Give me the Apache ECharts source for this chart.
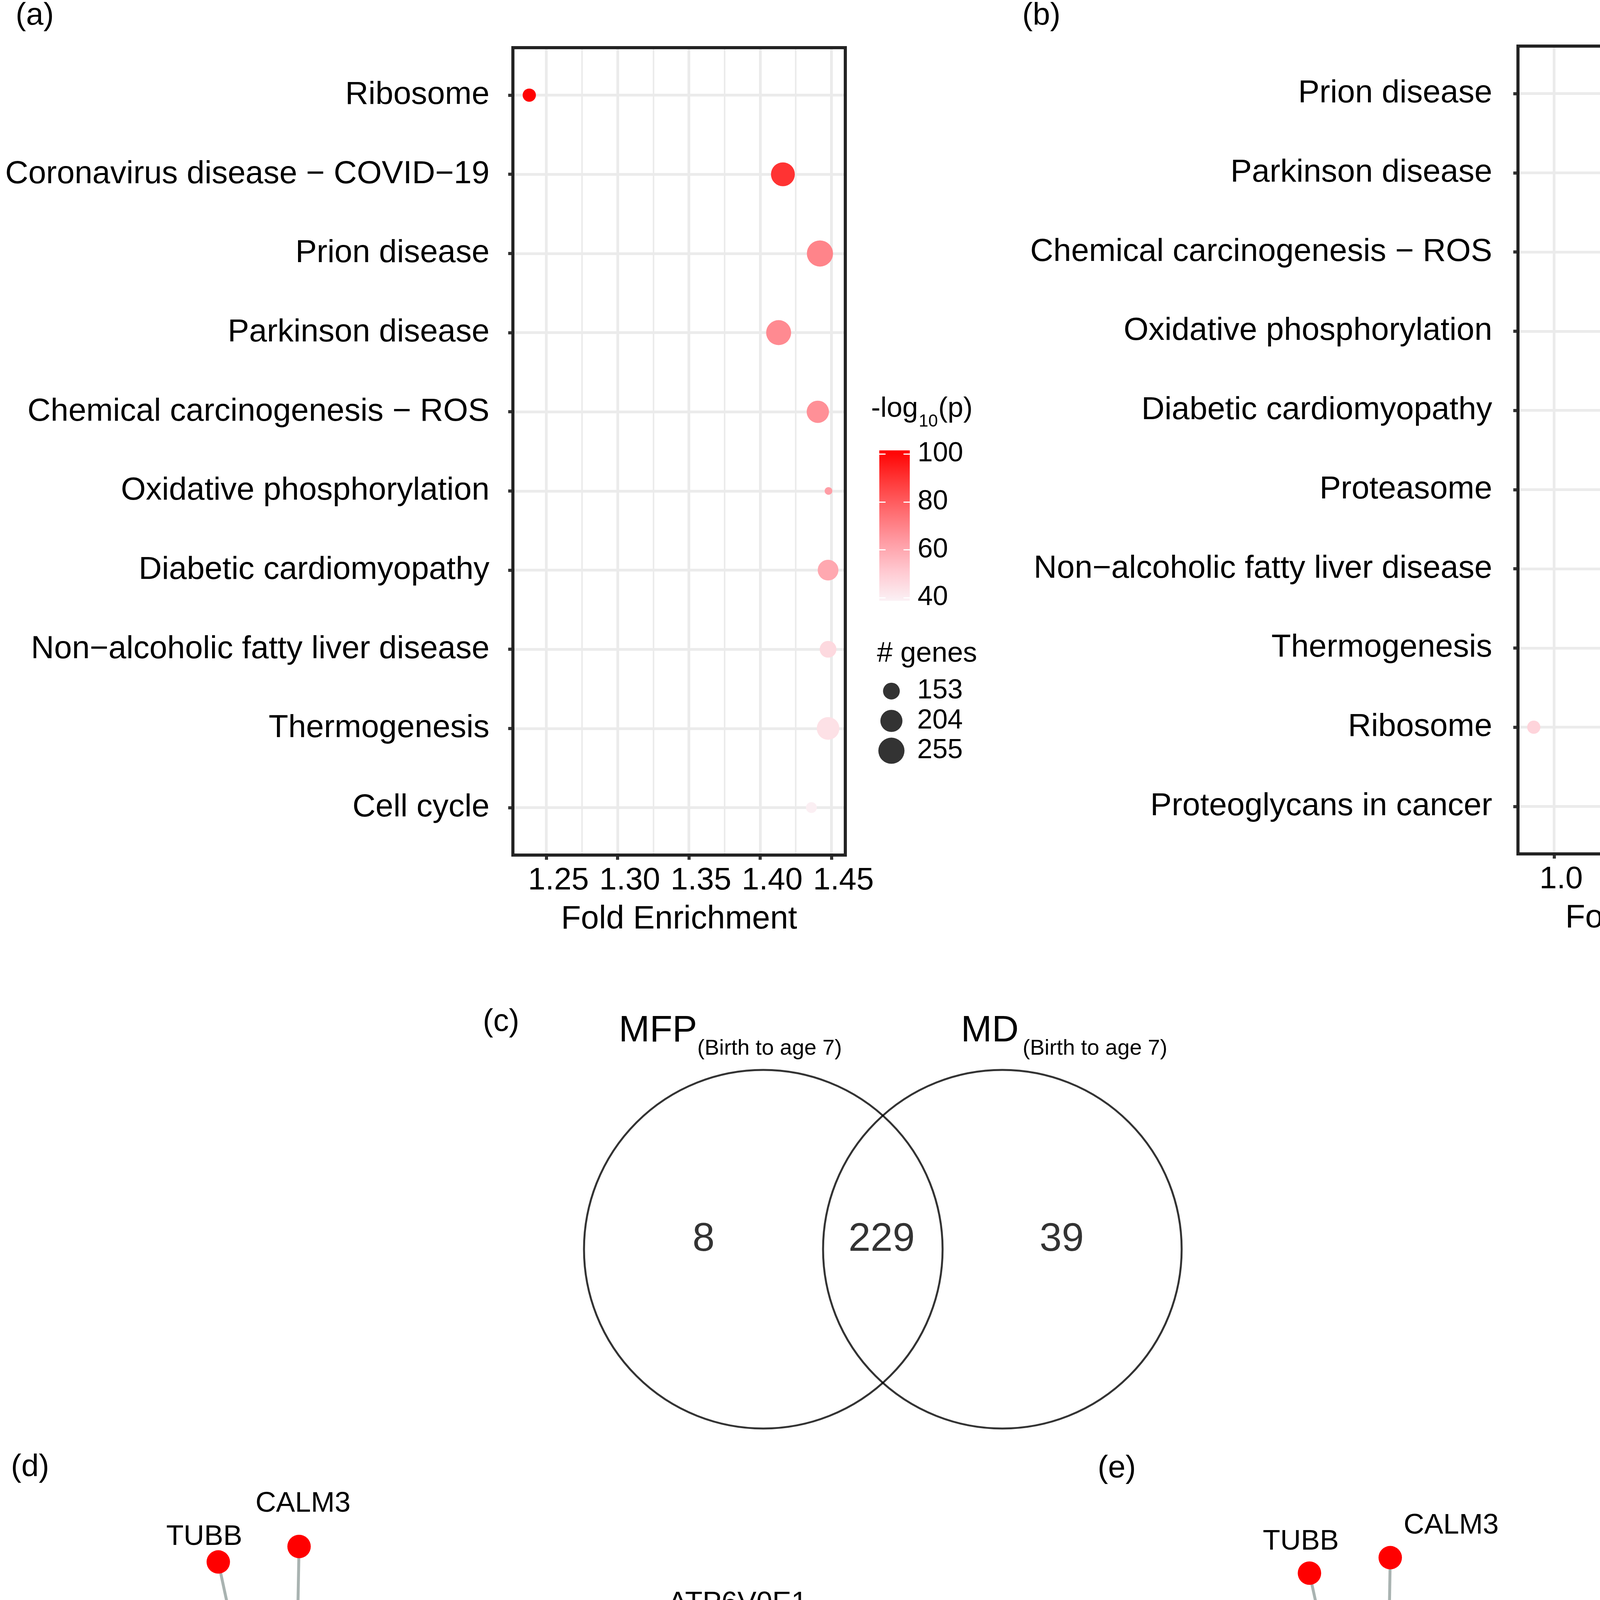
<!DOCTYPE html>
<html><head><meta charset="utf-8">
<script src="https://cdn.jsdelivr.net/npm/echarts@6/dist/echarts.min.js"></script>
<style>html,body{margin:0;padding:0;background:#fff}#c{width:5063px;height:6080px}</style>
</head><body><div id="c"></div>
<script>
// ================= DATA =================
// (a) KEGG enrichment, MFP (birth to age 7)
const catsA = ['Ribosome','Coronavirus disease − COVID−19','Prion disease','Parkinson disease','Chemical carcinogenesis − ROS','Oxidative phosphorylation','Diabetic cardiomyopathy','Non−alcoholic fatty liver disease','Thermogenesis','Cell cycle'];
const foldA  = [1.238, 1.416, 1.442, 1.413, 1.4405, 1.448, 1.4477, 1.4477, 1.4477, 1.436];
const logpA  = [101, 90, 69.5, 68, 66.4, 63, 60, 46, 43.7, 39.3];
const genesA = [129, 225, 255, 239, 206, 107, 189, 153, 210, 117];
const foldTicksA  = [1.25, 1.30, 1.35, 1.40, 1.45];
const colorTicksA = [40, 60, 80, 100];
const sizeBreaksA = [153, 204, 255];

// (b) KEGG enrichment, MD (birth to age 7)
const catsB = ['Prion disease','Parkinson disease','Chemical carcinogenesis − ROS','Oxidative phosphorylation','Diabetic cardiomyopathy','Proteasome','Non−alcoholic fatty liver disease','Thermogenesis','Ribosome','Proteoglycans in cancer'];
const foldB  = [2.300, 2.160, 2.328, 2.475, 2.297, 2.109, 2.458, 2.153, 0.893, 2.360];
const logpB  = [80.5, 78.8, 68.5, 69, 65, 59, 53.3, 48.7, 45.4, 40];
const genesB = [197, 190, 178, 109, 160, 27, 138, 166, 54, 166];
const foldTicksB  = [1.0, 1.5, 2.0, 2.5];
const colorTicksB = [40, 50, 60, 70, 80];
const sizeBreaksB = [42, 84, 126, 168, 210];

// (c) Venn
const vennSets   = ['MFP', 'MD'];
const vennSubtitle = '(Birth to age 7)';
const vennCounts = [8, 229, 39];   // MFP only, shared, MD only

// (d)/(e) gene-concept networks
const termNodes = ['PD', 'OP'];
const termGeneCounts = [15, 9];
const pdGenes = ['CALM3','TUBB','CALM1','VDAC1','TXN','UBE2G1','DDIT3','SLC25A5','PSMD7','COX7C','NDUFB3','NDUFA1','COX6A1','COX7A2','UQCRQ'];
const opGenes = ['COX7C','NDUFB3','NDUFA1','COX6A1','COX7A2','UQCRQ','ATP6V0E1','ATP6V0E2','ATP6V1D'];
const decreasedGenes = ['CALM3','TUBB','CALM1','VDAC1','UBE2G1','SLC25A5','PSMD7','ATP6V0E2'];
const increasedGenes = ['TXN','DDIT3','COX7C','NDUFB3','NDUFA1','COX6A1','COX7A2','UQCRQ','ATP6V0E1','ATP6V1D'];
const nodeTypes = ['Enriched term', 'Increased Methylation', 'Decreased Methylation'];
const netSizeBreaks = [2, 6, 11, 15];
// network layouts (layout units 0-100)
const layoutD = {PD:[34.0,51.2], OP:[67.0,50.7], CALM3:[34.8,9.5], TUBB:[25.4,11.3], CALM1:[22.7,25.9], VDAC1:[14.2,33.5], TXN:[16.3,50.7], UBE2G1:[14.0,66.5], DDIT3:[21.0,77.9], SLC25A5:[26.3,89.9], PSMD7:[34.8,92.3], COX7C:[49.1,23.2], NDUFB3:[53.8,29.7], NDUFA1:[50.3,43.0], COX6A1:[50.3,58.6], COX7A2:[53.5,71.1], UQCRQ:[49.6,79.5], ATP6V0E1:[80.2,20.8], ATP6V0E2:[85.5,50.5], ATP6V1D:[80.4,80.4]};
const layoutE = {PD:[33.8,52.4], OP:[66.6,52.4], CALM3:[34.5,10.8], TUBB:[25.1,12.6], CALM1:[22.4,27.4], VDAC1:[13.9,34.9], TXN:[16.0,52.1], UBE2G1:[13.7,68.0], DDIT3:[20.7,79.2], SLC25A5:[26.0,91.3], PSMD7:[34.5,93.7], COX7C:[48.8,24.6], NDUFB3:[53.5,31.1], NDUFA1:[49.9,44.4], COX6A1:[49.9,60.0], COX7A2:[53.1,72.5], UQCRQ:[49.4,80.9], ATP6V0E1:[79.9,22.1], ATP6V0E2:[85.1,51.9], ATP6V1D:[80.1,81.9]};

// ================= STYLE =================
const FONT = '"Liberation Sans", Arial, Helvetica, sans-serif';
const RAMP = ['#FBF1F5','#FFC8D0','#FF9AA2','#FF6A6E','#FF3838','#FF0000'];
const GRIDC = '#EBEBEB', FRAMEC = '#232323', TICKC = '#333333';
const TYPE_COLORS = ['#E9DDC2', '#6BFF00', '#FF0000'];
const EDGE_C = '#A9B3B1';
const labelOffD = {CALM3:[10,-109], TUBB:[-36,-64], CALM1:[-132,-85], VDAC1:[-168,-49], TXN:[-160,-12], UBE2G1:[-127,77], DDIT3:[-147,50], SLC25A5:[-60,70], PSMD7:[100,85], COX7C:[-35,-109], NDUFB3:[175,-84], NDUFA1:[16,-110], COX6A1:[42,83], COX7A2:[87,66], UQCRQ:[25,70], ATP6V0E1:[124,-103], ATP6V0E2:[89,-88], ATP6V1D:[36,88]};
const labelOffE = {CALM3:[156,-82], TUBB:[-22,-80], CALM1:[-40,-89], VDAC1:[-17,-77], TXN:[-150,-20], UBE2G1:[-122,72], DDIT3:[-84,70], SLC25A5:[-61,71], PSMD7:[110,94], COX7C:[-29,-103], NDUFB3:[186,-82], NDUFA1:[16,-110], COX6A1:[42,76], COX7A2:[98,73], UQCRQ:[24,77], ATP6V0E1:[118,-97], ATP6V0E2:[94,-86], ATP6V1D:[23,-110]};

// size scales (diameter in px), ggplot-like area scale
function sizeA(v){ return 10.6 + 56.4*Math.sqrt(Math.max(0,(v-103)/(255-103))); }
function sizeB(v){ return 10.6 + 56.4*Math.sqrt(Math.max(0,(v-22)/(210-22))); }
function netLegendSize(n){ return 73 + 57.7*Math.sqrt(Math.max(0,(n-2)/13)); }
function stackRows(sizes, start, gap){ let y = start; return sizes.map((d,i)=>{ y += i===0 ? d/2 : (sizes[i-1]+d)/2 + gap; return y; }); }

function txt(text, left, top, size){ return {text, left, top, padding:0, textStyle:{fontFamily:FONT, fontSize:size, fontWeight:'normal', color:'#000', lineHeight:size}}; }
function near(v, arr){ return arr.some(t => Math.abs(t - v) < 1e-6); }
function gradient(){ return {type:'linear', x:0, y:1, x2:0, y2:0, colorStops: RAMP.map((c,i)=>({offset:i/(RAMP.length-1), color:c}))}; }

function mainGrid(g){ return Object.assign({show:true, z:10, backgroundColor:'rgba(0,0,0,0)', borderColor:FRAMEC, borderWidth:8, containLabel:false, outerBoundsMode:'none'}, g); }
function plainGrid(g){ return Object.assign({show:false, containLabel:false, outerBoundsMode:'none'}, g); }
function hiddenAxis(gi, min, max, inverse){ return {type:'value', gridIndex:gi, min, max, inverse:!!inverse, show:false, axisLine:{onZero:false}, splitLine:{show:false}}; }

function majorX(gi, min, max, step, ticks, dec, shift){
  return {type:'value', gridIndex:gi, min, max, minInterval:step, maxInterval:step, position:'bottom',
    axisLine:{show:false, onZero:false},
    axisTick:{show:true, length:12, lineStyle:{color:TICKC, width:8}, customValues:ticks},
    axisLabel:{customValues:ticks, fontFamily:FONT, fontSize:80, color:'#000', margin:26, padding:[0,0,0,shift],
      formatter:v=> near(v,ticks) ? v.toFixed(dec) : ''},
    splitLine:{show:true, lineStyle:{color:GRIDC, width:7}},
    name:'Fold Enrichment', nameLocation:'middle', nameGap:124,
    nameTextStyle:{fontFamily:FONT, fontSize:83, color:'#000', verticalAlign:'top', lineHeight:83}};
}
function minorX(gi, min, max, step){
  return {type:'value', gridIndex:gi, min, max, minInterval:step, maxInterval:step, position:'bottom',
    axisLine:{show:false, onZero:false}, axisTick:{show:false}, axisLabel:{show:false},
    splitLine:{show:true, lineStyle:{color:GRIDC, width:4}}};
}
function catY(gi, cats, margin){
  const idx = cats.map((c,i)=>i);
  return {type:'value', gridIndex:gi, min:-0.6, max:cats.length-0.4, inverse:true, minInterval:1, maxInterval:1, position:'left',
    axisLine:{show:false, onZero:false},
    axisTick:{show:true, length:12, lineStyle:{color:TICKC, width:8}, customValues:idx},
    axisLabel:{customValues:idx, fontFamily:FONT, fontSize:82, color:'#000', margin, padding:[0,0,12,0],
      formatter:v=> Number.isInteger(v) && cats[v] ? cats[v] : ''},
    splitLine:{show:true, lineStyle:{color:GRIDC, width:7}}};
}
function cbarY(gi, min, max, ticks, step, right){
  return {type:'value', gridIndex:gi, min, max, minInterval:step, maxInterval:step, position: right ? 'right':'left',
    axisLine:{show:false, onZero:false},
    axisTick:{show:true, inside:true, length:16, lineStyle:{color:'#fff', width:3}, customValues:ticks},
    axisLabel:{show:right, customValues:ticks, fontFamily:FONT, fontSize:70, color:'#000', margin:20, formatter:v=> near(v,ticks) ? String(Math.round(v)) : ''},
    splitLine:{show:false}};
}
function sizeLegY(gi, breaks){
  return {type:'category', gridIndex:gi, data:breaks.map(String), inverse:true, position:'right',
    axisLine:{show:false, onZero:false}, axisTick:{show:false}, splitLine:{show:false},
    axisLabel:{interval:0, fontFamily:FONT, fontSize:70, color:'#000', margin:16, align:'left'}};
}

// ================= BUILD =================
const dataA = catsA.map((c,i)=>[foldA[i], i, logpA[i], genesA[i]]);
const dataB = catsB.map((c,i)=>[foldB[i], i, logpB[i], genesB[i]]);

function buildGraph(layout, offs){
  const nodes = [];
  termNodes.forEach((t,i)=> nodes.push({name:t, value:layout[t], symbolSize:0.82*netLegendSize(termGeneCounts[i]),
    itemStyle:{color:TYPE_COLORS[0]}, label:{show:true, position:'inside'}}));
  const genes = Array.from(new Set(pdGenes.concat(opGenes)));
  genes.forEach(g=> nodes.push({name:g, value:layout[g], symbolSize:60,
    itemStyle:{color: increasedGenes.includes(g) ? TYPE_COLORS[1] : TYPE_COLORS[2]},
    label:{show:true, position:'inside', offset:offs[g]}}));
  const links = pdGenes.map(g=>({source:'PD', target:g})).concat(opGenes.map(g=>({source:'OP', target:g})));
  return {nodes, links};
}
const gD = buildGraph(layoutD, labelOffD);
const gE = buildGraph(layoutE, labelOffE);

const netLegRows = stackRows(netSizeBreaks.map(netLegendSize), 54.5, 22);
const typeSizes = [86, 60, 60];
const typeRows = stackRows(typeSizes, 19, 31);

function graphSeries(xi, data){
  return {type:'graph', coordinateSystem:'cartesian2d', xAxisIndex:xi, yAxisIndex:xi, layout:'none',
    data:data.nodes, links:data.links, symbol:'circle', edgeSymbol:['none','none'], silent:true,
    lineStyle:{color:EDGE_C, width:7.5, opacity:1, curveness:0},
    label:{show:true, fontFamily:FONT, fontSize:73, color:'#000'},
    emphasis:{disabled:true}};
}

const option = {
  backgroundColor:'#fff',
  animation:false,
  title:[
    txt('(a)', 40, 1, 80), txt('(b)', 2617, 1, 80), txt('(c)', 1236, 2577, 80),
    txt('(d)', 28, 3717, 80), txt('(e)', 2810, 3720, 80),
    // legend titles (a)
    txt('-log', 2230, 1011, 72), txt('10', 2352, 1058, 44), txt('(p)', 2402, 1011, 72),
    txt('# genes', 2245, 1638, 72),
    // legend titles (b)
    txt('-log', 4803, 1011, 72), txt('10', 4925, 1058, 44), txt('(p)', 4975, 1011, 72),
    txt('# genes', 4797, 1638, 72),
    // venn set names
    txt(vennSets[0], 1584, 2592, 95), txt(vennSubtitle, 1785, 2657, 56),
    txt(vennSets[1], 2460, 2592, 95), txt(vennSubtitle, 2618, 2657, 56),
    // network legend
    txt('# genes', 2425, 4996, 72)
  ],
  grid:[
    mainGrid({left:1313, top:122, width:851, height:2067}),      // 0 a
    mainGrid({left:3886, top:118, width:847, height:2068}),      // 1 b
    {show:true, left:2251, top:1153, width:78, height:385, backgroundColor:gradient(), borderWidth:0, containLabel:false, outerBoundsMode:'none'}, // 2
    {show:true, left:4803, top:1153, width:78, height:383, backgroundColor:gradient(), borderWidth:0, containLabel:false, outerBoundsMode:'none'}, // 3
    plainGrid({left:2232, top:1731, width:100, height:229}),     // 4 size leg a
    plainGrid({left:4783, top:1731, width:100, height:382}),     // 5 size leg b
    plainGrid({left:1400, top:2700, width:1700, height:1000}),   // 6 venn
    plainGrid({left:0, top:3750, width:2200, height:2200}),      // 7 net d
    plainGrid({left:2800, top:3750, width:2200, height:2200}),   // 8 net e
    plainGrid({left:2403, top:5050, width:200, height:600}),     // 9 net size leg
    plainGrid({left:2036, top:5750, width:200, height:330})      // 10 node type leg
  ],
  xAxis:[
    majorX(0, 1.2265, 1.4598, 0.05, foldTicksA, 2, 62),
    minorX(0, 1.2265, 1.4598, 0.025),
    majorX(1, 0.81, 2.55, 0.5, foldTicksB, 1, 36),
    minorX(1, 0.81, 2.55, 0.25),
    hiddenAxis(2, 0, 1), hiddenAxis(3, 0, 1),
    hiddenAxis(4, 0, 1), hiddenAxis(5, 0, 1),
    hiddenAxis(6, 0, 1),
    hiddenAxis(7, 0, 100), hiddenAxis(8, 0, 100),
    hiddenAxis(9, 0, 1), hiddenAxis(10, 0, 1)
  ],
  yAxis:[
    catY(0, catsA, 60),
    catY(1, catsB, 66),
    cbarY(2, 38.7, 101.5, colorTicksA, 20, true),
    cbarY(2, 38.7, 101.5, colorTicksA, 20, false),
    cbarY(3, 39.6, 80.9, colorTicksB, 10, true),
    cbarY(3, 39.6, 80.9, colorTicksB, 10, false),
    sizeLegY(4, sizeBreaksA),
    sizeLegY(5, sizeBreaksB),
    hiddenAxis(6, 0, 1, true),
    hiddenAxis(7, 0, 100, true), hiddenAxis(8, 0, 100, true),
    hiddenAxis(9, 0, 600, true), hiddenAxis(10, 0, 330, true)
  ],
  visualMap:[
    {type:'continuous', show:false, seriesIndex:0, dimension:2, min:38.7, max:101.5, inRange:{color:RAMP}},
    {type:'continuous', show:false, seriesIndex:1, dimension:2, min:39.6, max:80.9, inRange:{color:RAMP}}
  ],
  series:[
    {type:'scatter', xAxisIndex:0, yAxisIndex:0, data:dataA, symbolSize:v=>sizeA(v[3]), itemStyle:{opacity:1}, silent:true, z:3},
    {type:'scatter', xAxisIndex:2, yAxisIndex:1, data:dataB, symbolSize:v=>sizeB(v[3]), itemStyle:{opacity:1}, silent:true, z:3},
    {type:'scatter', xAxisIndex:6, yAxisIndex:6, data:sizeBreaksA.map((v,i)=>[0.5,i,v]), symbolSize:v=>sizeA(v[2]), itemStyle:{color:'#000'}, silent:true},
    {type:'scatter', xAxisIndex:7, yAxisIndex:7, data:sizeBreaksB.map((v,i)=>[0.5,i,v]), symbolSize:v=>sizeB(v[2]), itemStyle:{color:'#000'}, silent:true},
    // venn circles
    {type:'scatter', xAxisIndex:8, yAxisIndex:8, data:[[0.3259,0.498],[0.6859,0.498]], symbolSize:918, silent:true,
      itemStyle:{color:'rgba(0,0,0,0)', borderColor:'#000', borderWidth:5}},
    // venn counts
    {type:'scatter', xAxisIndex:8, yAxisIndex:8, data:[[0.2359,0.474,vennCounts[0]],[0.5041,0.474,vennCounts[1]],[0.7753,0.474,vennCounts[2]]],
      symbolSize:1, itemStyle:{color:'rgba(0,0,0,0)'}, silent:true,
      label:{show:true, position:'inside', formatter:p=>String(p.value[2]), fontFamily:FONT, fontSize:102, color:'#000'}},
    graphSeries(9, gD),
    graphSeries(10, gE),
    // network size legend
    {type:'scatter', xAxisIndex:11, yAxisIndex:11, data:netSizeBreaks.map((n,i)=>[0.5, netLegRows[i], n]),
      symbolSize:v=>netLegendSize(v[2]), itemStyle:{color:'#0A0A0A'}, silent:true,
      label:{show:true, position:'inside', align:'left', offset:[110,-4], formatter:p=>String(p.value[2]), fontFamily:FONT, fontSize:72, color:'#000'}},
    // node type legend
    {type:'scatter', xAxisIndex:12, yAxisIndex:12, data:nodeTypes.map((t,i)=>({value:[0.5, typeRows[i], t], symbolSize:typeSizes[i], itemStyle:{color:TYPE_COLORS[i]}})),
      silent:true,
      label:{show:true, position:'inside', align:'left', offset:[137,0], formatter:p=>p.value[2], fontFamily:FONT, fontSize:72, color:'#000'}}
  ]
};

const chart = echarts.init(document.getElementById('c'), null, {renderer:'canvas', width:5063, height:6080});
chart.setOption(option);
</script>
</body></html>
